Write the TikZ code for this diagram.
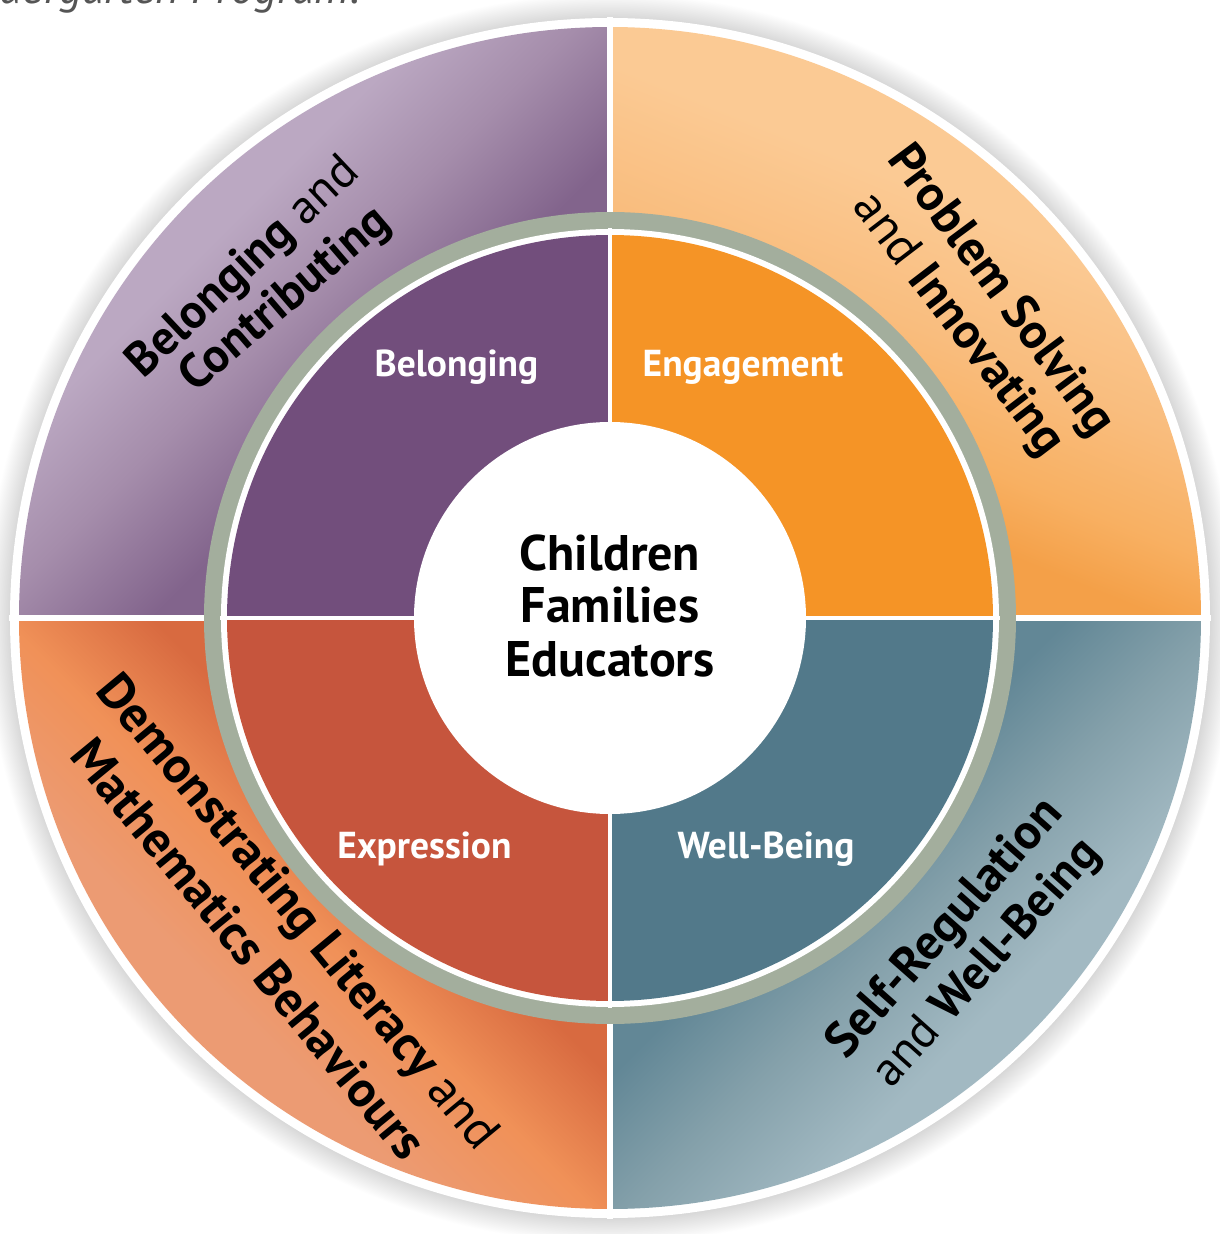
\documentclass[tikz,border=0pt]{standalone}
\usepackage{fontspec}
\setmainfont{PT Sans}
\usepackage{graphicx}
\definecolor{ringgray}{RGB}{163,174,157}
\definecolor{inPurple}{RGB}{114,78,124}
\definecolor{inOrange}{RGB}{245,148,38}
\definecolor{inRed}{RGB}{198,85,61}
\definecolor{inTeal}{RGB}{82,121,138}
\definecolor{halo}{RGB}{212,212,212}
\definecolor{topgray}{RGB}{85,85,85}
% top-left purple
\definecolor{tlA}{RGB}{130,100,140}
\definecolor{tlB}{RGB}{165,141,171}
\definecolor{tlC}{RGB}{187,168,194}
% top-right orange
\definecolor{trA}{RGB}{244,160,72}
\definecolor{trB}{RGB}{248,176,98}
\definecolor{trC}{RGB}{249,189,126}
\definecolor{trD}{RGB}{251,202,148}
% bottom-right teal
\definecolor{brA}{RGB}{98,135,150}
\definecolor{brB}{RGB}{132,160,170}
\definecolor{brC}{RGB}{162,185,194}
% bottom-left orange
\definecolor{blA}{RGB}{216,106,64}
\definecolor{blB}{RGB}{240,145,88}
\definecolor{blC}{RGB}{236,155,115}
\pgfdeclareverticalshading{tlshade}{100bp}{color(0bp)=(tlA); color(42bp)=(tlA); color(52bp)=(tlB); color(61bp)=(tlC); color(100bp)=(tlC)}
\pgfdeclareverticalshading{trshade}{100bp}{color(0bp)=(trA); color(35bp)=(trA); color(41bp)=(trB); color(50bp)=(trC); color(61bp)=(trD); color(100bp)=(trD)}
\pgfdeclareverticalshading{brshade}{100bp}{color(0bp)=(brA); color(42bp)=(brA); color(51bp)=(brB); color(61bp)=(brC); color(100bp)=(brC)}
\pgfdeclareverticalshading{blshade}{100bp}{color(0bp)=(blA); color(42bp)=(blA); color(51bp)=(blB); color(60.5bp)=(blC); color(100bp)=(blC)}
\pgfdeclareradialshading{haloshade}{\pgfpointorigin}{color(0bp)=(halo); color(23.9bp)=(halo); color(25bp)=(white); color(50bp)=(white)}
\tikzset{
  outerlbl/.style={inner sep=0pt, text=black},
  innerlbl/.style={anchor=base, inner sep=0pt, text=white, font=\fontsize{37.5}{45}\selectfont\bfseries},
  centerlbl/.style={anchor=base, inner sep=0pt, text=black, font=\fontsize{50}{60}\selectfont\bfseries},
  gapouter/.style={white, line width=6pt},
  gapinner/.style={white, line width=4.5pt}
}
\begin{document}
\begin{tikzpicture}[x=1pt,y=1pt]
\useasboundingbox (-610,-616) rectangle (609,618);
\fill[white] (-610,-616) rectangle (609,618);
% cropped caption text at top
\node[anchor=base east, inner sep=0pt, text=topgray, font=\fontsize{46}{54}\selectfont\itshape] (caption) at (-250,614) {Kindergarten Program.};
% soft shadow and white rim
\shade[shading=haloshade] (0,0) circle[radius=625];
\fill[white] (0,0) circle[radius=600];
% outer quadrants
\shade[shading=tlshade, shading angle=45] (0,0) -- (180:591) arc[start angle=180, end angle=90, radius=591] -- cycle;
\shade[shading=trshade, shading angle=-22] (0,0) -- (90:591) arc[start angle=90, end angle=0, radius=591] -- cycle;
\shade[shading=brshade, shading angle=-135] (0,0) -- (0:591) arc[start angle=0, end angle=-90, radius=591] -- cycle;
\shade[shading=blshade, shading angle=135] (0,0) -- (-90:591) arc[start angle=-90, end angle=-180, radius=591] -- cycle;
% gray ring and white gap
\fill[ringgray] (0,0) circle[radius=406];
\fill[white] (0,0) circle[radius=389];
% inner quadrants
\fill[inPurple] (0,0) -- (180:383) arc[start angle=180, end angle=90, radius=383] -- cycle;
\fill[inOrange] (0,0) -- (90:383) arc[start angle=90, end angle=0, radius=383] -- cycle;
\fill[inTeal] (0,0) -- (0:383) arc[start angle=0, end angle=-90, radius=383] -- cycle;
\fill[inRed] (0,0) -- (-90:383) arc[start angle=-90, end angle=-180, radius=383] -- cycle;
\fill[white] (0,0) circle[radius=196];
% white gaps
\foreach \a in {0,90,180,270} {
  \draw[gapouter] (\a:406) -- (\a:601);
  \draw[gapinner] (\a:190) -- (\a:390);
}
% centre text
\node[centerlbl] (cChildren) at (0,47) {Children};
\node[centerlbl] (cFamilies) at (0,-5) {Families};
\node[centerlbl] (cEducators) at (0,-58) {Educators};
% inner labels
\node[innerlbl] (iBelonging) at (-153.5,241) {Belonging};
\node[innerlbl] (iEngagement) at (133,241) {Engagement};
\node[innerlbl] (iExpression) at (-185.5,-240) {Expression};
\node[innerlbl] (iWellBeing) at (156,-240) {Well-Being};
% outer labels
\node[outerlbl, rotate=43.3] (oBelonging) at (-365.8,349.6) {\resizebox{298pt}{!}{\fontsize{40}{48}\selectfont\bfseries Belonging \mdseries and}};
\node[outerlbl, rotate=40.6] (oContributing) at (-324.2,317.2) {\resizebox{258pt}{!}{\fontsize{40}{48}\selectfont\bfseries Contributing}};
\node[outerlbl, rotate=-53.4] (oProblem) at (390,326.5) {\resizebox{348pt}{!}{\fontsize{40}{48}\selectfont\bfseries Problem Solving}};
\node[outerlbl, rotate=-52.6] (oInnovating) at (347.5,293) {\resizebox{317pt}{!}{\fontsize{40}{48}\selectfont\mdseries and \bfseries Innovating}};
\node[outerlbl, rotate=-50.4] (oDemonstrating) at (-314.5,-296) {\resizebox{599pt}{!}{\fontsize{40}{48}\selectfont\bfseries Demonstrating Literacy \mdseries and}};
\node[outerlbl, rotate=-50.6] (oMathematics) at (-361,-330.5) {\resizebox{527pt}{!}{\fontsize{40}{48}\selectfont\bfseries Mathematics Behaviours}};
\node[outerlbl, rotate=48.5] (oSelfReg) at (336,-311) {\resizebox{328pt}{!}{\fontsize{40}{48}\selectfont\bfseries Self-Regulation}};
\node[outerlbl, rotate=48.2] (oWellBeing) at (377.5,-346) {\resizebox{315pt}{!}{\fontsize{40}{48}\selectfont\mdseries and \bfseries Well-Being}};
\end{tikzpicture}
\end{document}
